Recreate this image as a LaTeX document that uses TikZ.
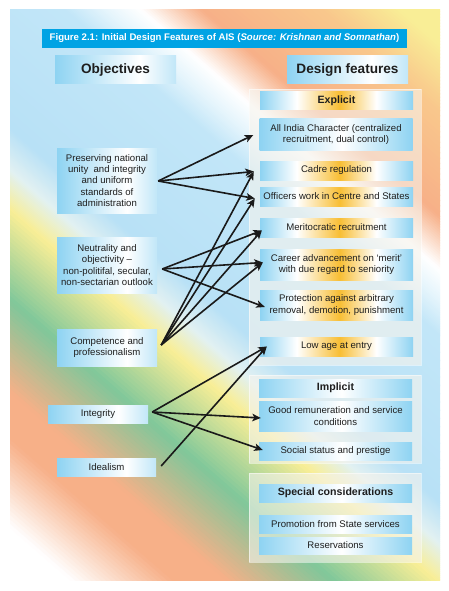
\documentclass[tikz,border=0pt]{standalone}
\usepackage{fontspec}
\setmainfont{Liberation Sans}
\usetikzlibrary{arrows.meta}
\definecolor{bblue}{HTML}{8ED3F2}
\definecolor{borange}{HTML}{F8BE34}
\definecolor{titlec}{HTML}{00A3E4}
\definecolor{txtc}{HTML}{1E1E1E}
\definecolor{arrowc}{HTML}{1A1A1A}
\definecolor{gwhite}{HTML}{FFFFFF}
\definecolor{gorange}{HTML}{F7B088}
\definecolor{ggreen}{HTML}{80C79A}
\definecolor{gyellow}{HTML}{F9EE96}
\definecolor{gpale}{HTML}{E2F1F2}
\definecolor{glblue}{HTML}{B8E1F6}
\definecolor{glblueb}{HTML}{C2E6F8}
\definecolor{gwb}{HTML}{E6F5FC}
\definecolor{goy}{HTML}{F9C88C}
\definecolor{panelc}{HTML}{F6F3EC}
\pgfdeclarehorizontalshading{bwb}{100bp}{color(0bp)=(bblue); color(25bp)=(bblue); color(52bp)=(white); color(75bp)=(bblue); color(100bp)=(bblue)}
\pgfdeclarehorizontalshading{bwo}{100bp}{color(0bp)=(bblue); color(25bp)=(bblue); color(37bp)=(white); color(51bp)=(borange); color(63bp)=(white); color(75bp)=(bblue); color(100bp)=(bblue)}
\pgfdeclarehorizontalshading{bwl}{100bp}{color(0bp)=(bblue); color(25bp)=(bblue); color(60bp)=(white); color(75bp)=(bblue!55); color(100bp)=(bblue!55)}
\newcommand{\gstrip}[4]{%
  \foreach \k in {0,...,19}{%
    \pgfmathsetmacro{\ta}{#1+(#2-#1)*\k/20}%
    \pgfmathsetmacro{\tb}{#1+(#2-#1)*(\k+1)/20+0.8}%
    \pgfmathtruncatemacro{\pc}{\k*5+2}%
    \fill[fill=#4!\pc!#3] (\ta,-900) rectangle (\tb,900);
  }}
\tikzset{
  boxbase/.style={shade, inner sep=0pt, align=center, text=txtc, font=\fontsize{9.6}{11.2}\selectfont},
  bbox/.style={boxbase, shading=bwb},
  obox/.style={boxbase, shading=bwo},
  lbox/.style={boxbase, shading=bwl},
  hdr/.style={boxbase, shading=bwl, font=\bfseries\fontsize{13.6}{15}\selectfont, minimum width=121pt, minimum height=28pt},
  subhdr/.style={font=\bfseries\fontsize{10.6}{12}\selectfont},
  rbox/.style={minimum width=153pt},
  panel/.style={fill=panelc, fill opacity=0.6, draw=white, draw opacity=0.5, inner sep=0pt},
  arr/.style={draw=arrowc, line width=1.6pt, -{Stealth[length=8.5pt,width=7.5pt,inset=2pt]}}
}
\begin{document}
\begin{tikzpicture}[x=1pt,y=-1pt]
\useasboundingbox (0,0) rectangle (448,591);
% background gradient
\begin{scope}
\clip (10,10) rectangle (440,580);
\begin{scope}[x=1pt,y=1pt,rotate=49]
\gstrip{-470}{-392}{gwhite}{gwhite}
\gstrip{-392}{-325}{gwhite}{gorange}
\gstrip{-325}{-290}{gorange}{gorange}
\gstrip{-290}{-220}{gorange}{ggreen}
\gstrip{-220}{-152}{ggreen}{gyellow}
\gstrip{-152}{-122}{gyellow}{gpale}
\gstrip{-122}{-90}{gpale}{glblue}
\gstrip{-90}{35}{glblue}{glblueb}
\gstrip{35}{62}{glblueb}{gwb}
\gstrip{62}{85}{gwb}{gwhite}
\gstrip{85}{125}{gwhite}{gorange}
\gstrip{125}{205}{gorange}{goy}
\gstrip{205}{255}{goy}{gyellow}
\gstrip{255}{300}{gyellow}{gyellow}
\end{scope}
\end{scope}
% title and headers
\node[fill=titlec, minimum width=365pt, minimum height=19pt, inner sep=0pt, text=white, font=\bfseries\fontsize{9.6}{11}\selectfont] (title) at (224.5,38.5) {Figure 2.1: Initial Design Features of AIS (\textit{Source: Krishnan and Somnathan})};
\node[hdr] (obj) at (115.5,70) {Objectives};
\node[hdr] (dsg) at (347.5,70) {Design features};
% panels
\node[panel, minimum width=172pt, minimum height=276pt] (pE) at (335,227) {};
\node[panel, minimum width=172pt, minimum height=88pt] (pI) at (335,419) {};
\node[panel, minimum width=172pt, minimum height=89pt] (pS) at (335,517.5) {};
% explicit
\node[obox, rbox, subhdr, minimum height=18pt] (explicit) at (336.5,101) {Explicit};
\node[bbox, rbox, minimum height=31pt] (allindia) at (336,134.5) {All India Character (centralized\\recruitment, dual control)};
\node[obox, rbox, minimum height=19pt] (cadre) at (336.5,170.5) {Cadre regulation};
\node[obox, rbox, minimum height=19pt] (officers) at (336.5,196.5) {Officers work in Centre and States};
\node[obox, rbox, minimum height=19pt] (merit) at (336.5,227.5) {Meritocratic recruitment};
\node[obox, rbox, minimum height=31pt] (career) at (336.5,264.5) {Career advancement on ‘merit’\\with due regard to seniority};
\node[obox, rbox, minimum height=30pt] (protect) at (336.5,305) {Protection against arbitrary\\removal, demotion, punishment};
\node[obox, rbox, minimum height=19pt] (lowage) at (336.5,346.5) {Low age at entry};
% implicit
\node[bbox, rbox, subhdr, minimum height=18pt] (implicit) at (335.5,388) {Implicit};
\node[bbox, rbox, minimum height=30pt] (goodrem) at (335.5,416) {Good remuneration and service\\conditions};
\node[bbox, rbox, minimum height=18pt] (social) at (335.5,451) {Social status and prestige};
% special
\node[bbox, rbox, subhdr, minimum height=18pt] (special) at (335.5,493) {Special considerations};
\node[bbox, rbox, minimum height=18pt] (promo) at (335.5,524) {Promotion from State services};
\node[bbox, rbox, minimum height=17pt] (reserv) at (335.5,545.5) {Reservations};
% objectives
\node[lbox, minimum width=100pt, minimum height=65pt] (pres) at (107,180.5) {Preserving national\\unity\ \ and integrity\\and uniform\\standards of\\administration};
\node[lbox, minimum width=100pt, minimum height=56pt] (neut) at (107,265) {Neutrality and\\objectivity –\\non-politifal, secular,\\non-sectarian outlook};
\node[lbox, minimum width=100pt, minimum height=37pt] (comp) at (107,347.5) {Competence and\\professionalism};
\node[lbox, minimum width=100pt, minimum height=18pt] (integ) at (98,414) {Integrity};
\node[lbox, minimum width=99pt, minimum height=18pt] (ideal) at (106.5,467) {Idealism};
% connectors
\coordinate (oP) at ([shift={(1,0.5)}]pres.east);
\coordinate (oN) at ([shift={(5,4)}]neut.east);
\coordinate (oC) at ([shift={(4,-2.5)}]comp.east);
\coordinate (oI) at ([shift={(4,-2)}]integ.east);
\coordinate (oD) at ([shift={(5,-1)}]ideal.east);
\draw[arr] (oP) -- ([shift={(-6,0.5)}]allindia.west);
\draw[arr] (oP) -- ([shift={(-6,1)}]cadre.west);
\draw[arr] (oP) -- ([shift={(-5,2)}]officers.west);
\draw[arr] (oN) -- ([shift={(2,3)}]merit.west);
\draw[arr] (oN) -- ([shift={(3,-2)}]career.west);
\draw[arr] (oN) -- ([shift={(5,2)}]protect.west);
\draw[arr] (oC) -- ([shift={(-6,1)}]cadre.west);
\draw[arr] (oC) -- ([shift={(-5,2)}]officers.west);
\draw[arr] (oC) -- ([shift={(2,3)}]merit.west);
\draw[arr] (oC) -- ([shift={(3,-2)}]career.west);
\draw[arr] (oI) -- ([shift={(7,0)}]lowage.west);
\draw[arr] (oI) -- ([shift={(2,2)}]goodrem.west);
\draw[arr] (oI) -- ([shift={(4,-1)}]social.west);
\draw[arr] (oD) -- ([shift={(7,0)}]lowage.west);
\end{tikzpicture}
\end{document}
